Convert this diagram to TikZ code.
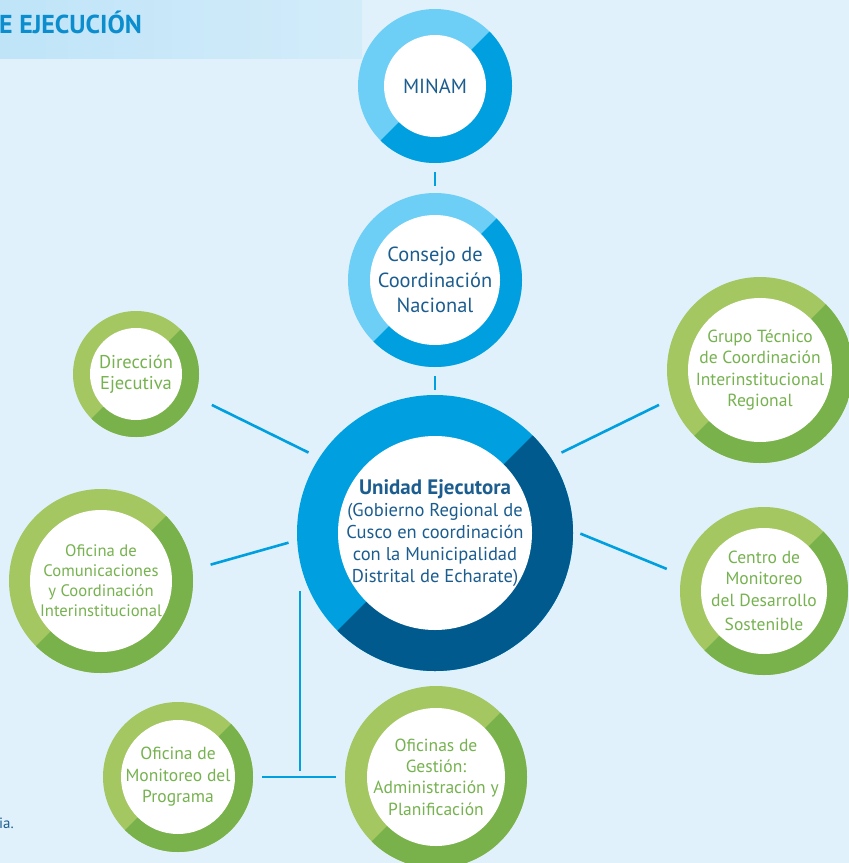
\documentclass[tikz,border=0pt]{standalone}
\usepackage{fontspec}
\setmainfont{PT Sans}
\usepackage{xcolor}
\usepackage{tikz}

\definecolor{fondo}{HTML}{E0F1FB}
\definecolor{banda}{HTML}{BFE4F8}
\definecolor{bandafin}{HTML}{D3ECFA}
\definecolor{titulo}{HTML}{0B8DCE}
\definecolor{celeste}{HTML}{6DCFF6}
\definecolor{azul}{HTML}{009FDF}
\definecolor{marino}{HTML}{005A8D}
\definecolor{textoazul}{HTML}{1C5D8F}
\definecolor{verdeclaro}{HTML}{A4C762}
\definecolor{verde}{HTML}{79B14B}
\definecolor{textoverde}{HTML}{76B24F}

\begin{document}
\begin{tikzpicture}[x=1bp,y=1bp,
      ring/.style n args={4}{circle,minimum size=2*#1bp,inner sep=0pt,outer sep=0pt,
        fill=#2,align=center,
        path picture={
          \fill[#3] (path picture bounding box.center) ++(283,283) -- ++(0,-566) -- ++(-566,0) -- cycle;
          \fill[white] (path picture bounding box.center) circle (#4);
        }},
      azulbola/.style 2 args={ring={#1}{celeste}{azul}{#2},text=textoazul,
        font=\fontsize{20.5}{25.5}\selectfont},
      verdebola/.style 2 args={ring={#1}{verdeclaro}{verde}{#2},text=textoverde,
        font=\fontsize{17.6}{21.5}\selectfont},
      link/.style={draw=azul,line width=2.6bp}]
      \useasboundingbox (0,0) rectangle (849,-863);
      \fill[fondo] (0,0) rectangle (849,-863);
      \shade[left color=banda,right color=bandafin] (0,0) rectangle (362,-58);
      \node[anchor=base west,inner sep=0pt,text=titulo,
        font=\bfseries\fontsize{26}{30}\selectfont] (cabecera) at (-1,-33) {E EJECUCIÓN};
      \node[anchor=base west,inner sep=0pt,text=textoazul,
        font=\fontsize{15}{18}\selectfont] (nota) at (-1,-828) {ia.};

      % organos de coordinacion
      \node[azulbola={77}{51}] (minam) at (435,-86) {MINAM};
      \node[azulbola={87}{65}] (consejo) at (435,-280) {Consejo de\\Coordinación\\Nacional};
      \node[ring={138}{azul}{marino}{97},text=textoazul,
        font=\fontsize{18.6}{22}\selectfont] (unidad) at (435,-533)
        {{\bfseries\fontsize{21}{22}\selectfont Unidad Ejecutora}\\(Gobierno Regional de\\Cusco en coordinación\\con la Municipalidad\\Distrital de Echarate)};

      % unidades
      \node[verdebola={63}{46},font=\fontsize{18.6}{21.5}\selectfont] (direccion) at (136,-374) {Dirección\\Ejecutiva};
      \node[verdebola={92}{71},font=\fontsize{16.7}{20}\selectfont] (comunic) at (101,-581) {Oficina de\\Comunicaciones\\y Coordinación\\Interinstitucional};
      \node[verdebola={93}{72}] (grupo) at (760,-370) {Grupo Técnico\\de Coordinación\\Interinstitucional\\Regional};
      \node[verdebola={84}{63}] (centro) at (764,-591) {Centro de\\Monitoreo\\del Desarrollo\\[3bp]Sostenible};
      \node[verdebola={75}{57}] (monitoreo) at (178,-777) {Oficina de\\Monitoreo del\\Programa};
      \node[verdebola={91}{69}] (gestion) at (436,-777) {Oficinas de\\Gestión:\\Administración y\\Planificación};

      \draw[link,shorten <=9bp,shorten >=7bp] (minam) -- (consejo);
      \draw[link,shorten <=9bp,shorten >=5bp] (consejo) -- (unidad);
      \draw[link,shorten <=19bp,shorten >=12bp] (direccion.-21) -- (unidad.147);
      \draw[link,shorten <=19bp,shorten >=9bp] (comunic.7) -- (unidad.183);
      \draw[link,shorten <=12bp,shorten >=14bp] (unidad.33) -- (grupo.198);
      \draw[link,shorten <=8bp,shorten >=16bp] (unidad.1) -- (centro.169);
      \draw[link,shorten <=9bp,shorten >=9bp] (monitoreo) -- (gestion);
      \coordinate (cruce) at (300,-771);
      \draw[link] (cruce) -- (cruce |- unidad.205);
\end{tikzpicture}
\end{document}
